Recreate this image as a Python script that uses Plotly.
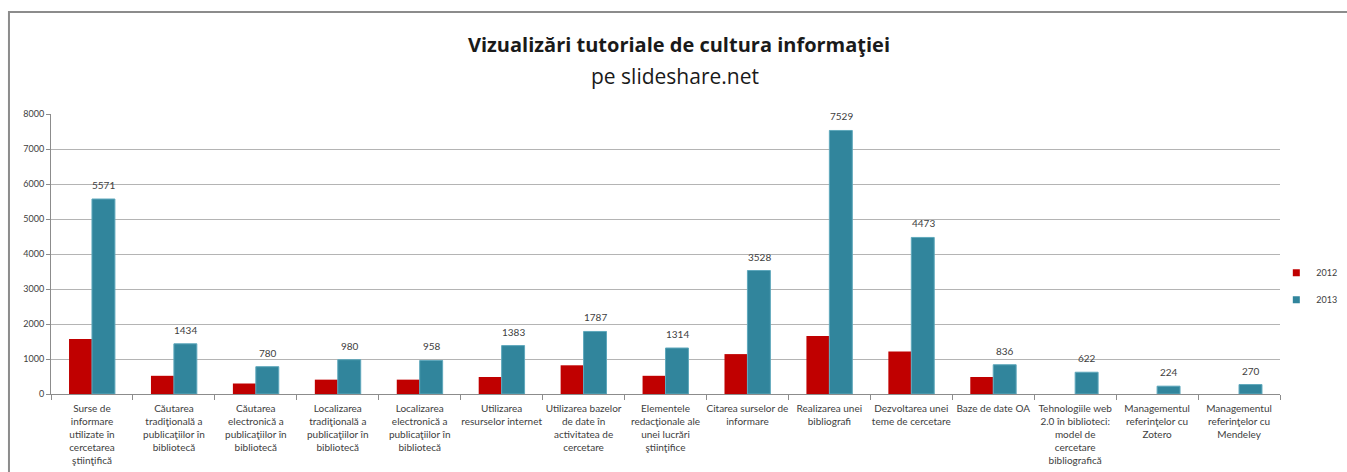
import plotly.graph_objects as go

categories = [
    "Surse de<br>informare<br>utilizate în<br>cercetarea<br>ştiinţifică",
    "Căutarea<br>tradiţională a<br>publicaţiilor în<br>bibliotecă",
    "Căutarea<br>electronică a<br>publicaţiilor în<br>bibliotecă",
    "Localizarea<br>tradiţională a<br>publicaţiilor în<br>bibliotecă",
    "Localizarea<br>electronică a<br>publicaţiilor în<br>bibliotecă",
    "Utilizarea<br>resurselor internet",
    "Utilizarea bazelor<br>de date în<br>activitatea de<br>cercetare",
    "Elementele<br>redacţionale ale<br>unei lucrări<br>ştiinţifice",
    "Citarea surselor de<br>informare",
    "Realizarea unei<br>bibliografi",
    "Dezvoltarea unei<br>teme de cercetare",
    "Baze de date OA",
    "Tehnologiile web<br>2.0 în biblioteci:<br>model de<br>cercetare<br>bibliografică",
    "Managementul<br>referinţelor cu<br>Zotero",
    "Managementul<br>referinţelor cu<br>Mendeley",
]
values_2012 = [1570, 520, 300, 410, 410, 485, 820, 520, 1140, 1657, 1217, 485, None, None, None]
values_2013 = [5571, 1434, 780, 980, 958, 1383, 1787, 1314, 3528, 7529, 4473, 836, 622, 224, 270]
y_ticks = [0, 1000, 2000, 3000, 4000, 5000, 6000, 7000, 8000]
series_names = ["2012", "2013"]
series_colors = ["#C00000", "#31859C"]
title_text = "Vizualizări tutoriale de cultura informaţiei"
subtitle_text = "pe slideshare.net"

FONT = "Lato"
TXT = "#404040"

fig = go.Figure()
fig.add_trace(go.Bar(x=categories, y=values_2012, name=series_names[0], showlegend=False,
                     marker=dict(color=series_colors[0], line=dict(width=0))))
fig.add_trace(go.Bar(x=categories, y=values_2013, name=series_names[1], showlegend=False,
                     marker=dict(color=series_colors[1], line=dict(color="#5FA8BC", width=1))))
# small square legend swatches
for n, c in zip(series_names, series_colors):
    fig.add_trace(go.Scatter(x=[None], y=[None], mode="markers", name=n, legendgroup=n,
                             marker=dict(symbol="square", size=7, color=c)))

for c, v in zip(categories, values_2013):
    fig.add_annotation(x=c, y=v, xref="x", yref="y", text=str(v), showarrow=False,
                       xshift=12, yshift=14, font=dict(family=FONT, size=10, color=TXT))

# title and subtitle
fig.add_annotation(x=0.511, y=1.249, xref="paper", yref="paper", xanchor="center",
                   yanchor="middle", showarrow=False, text="<b>" + title_text + "</b>",
                   font=dict(family="Open Sans", size=20, color="#1a1a1a"))
fig.add_annotation(x=0.5075, y=1.136, xref="paper", yref="paper", xanchor="center",
                   yanchor="middle", showarrow=False, text=subtitle_text,
                   font=dict(family="Open Sans", size=21, color="#1a1a1a"))

# outer frame
fig.add_shape(type="rect", xref="paper", yref="paper",
              x0=-0.0342, x1=1.08, y0=-0.35, y1=1.364,
              line=dict(color="#8C8C8C", width=2), fillcolor="rgba(0,0,0,0)", layer="below")

fig.update_layout(
    width=1347, height=472,
    margin=dict(l=51, r=67, t=114, b=78, autoexpand=False),
    paper_bgcolor="white", plot_bgcolor="white",
    barmode="group", bargap=0.44, bargroupgap=0,
    font=dict(family=FONT, color=TXT),
    showlegend=True,
    legend=dict(x=0.997, y=0.385, xanchor="left", yanchor="middle",
                font=dict(family=FONT, size=9, color=TXT), itemwidth=30,
                tracegroupgap=8, bgcolor="rgba(0,0,0,0)"),
    xaxis=dict(type="category", tickson="boundaries", ticks="outside", ticklen=5,
               tickcolor="#8C8C8C", showline=True, linecolor="#8C8C8C", linewidth=1,
               tickfont=dict(family=FONT, size=10, color=TXT), tickangle=0,
               ticklabelstandoff=5, showgrid=False),
    yaxis=dict(range=[0, 8000], tickvals=y_ticks, ticks="outside", ticklen=4,
               tickcolor="#8C8C8C", showline=True, linecolor="#8C8C8C", linewidth=1,
               gridcolor="#B4B4B4", gridwidth=1, zeroline=False,
               tickfont=dict(family=FONT, size=9, color=TXT)),
)

fig.write_html("out.html", config={"displayModeBar": False},
               post_script="document.body.style.margin='0';")
